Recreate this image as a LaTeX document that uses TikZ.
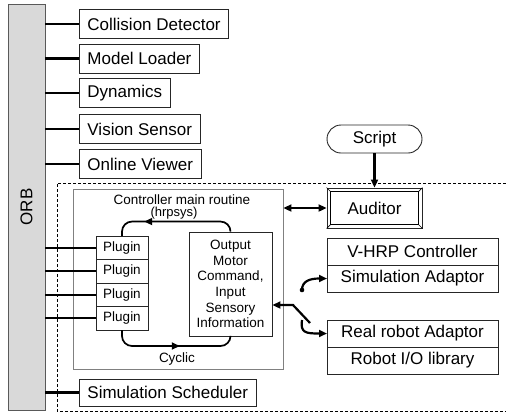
\documentclass[tikz,border=0pt]{standalone}
\usepackage{fontspec}
\setmainfont{Liberation Sans}
\usetikzlibrary{positioning, arrows.meta, decorations.markings}

\tikzset{
  bigfont/.style={font=\fontsize{17}{19}\selectfont},
  smallfont/.style={font=\fontsize{13.5}{15.6}\selectfont},
  box/.style={draw=black!85, line width=0.9pt, inner xsep=8pt, minimum height=29pt, bigfont},
  wbox/.style={draw=black!85, line width=0.9pt, outer sep=0pt, minimum width=171pt, minimum height=27pt, bigfont},
  plug/.style={draw=black!85, line width=0.9pt, outer sep=0pt, minimum width=52pt, minimum height=23.5pt, smallfont},
  link/.style={line width=2.4pt},
  cyc/.style={line width=1.7pt, rounded corners=10pt},
  midarrow/.style={postaction={decorate}, decoration={markings,
    mark=at position #1 with {\arrow{Triangle[length=8pt,width=7pt]}}}},
}

\begin{document}
\begin{tikzpicture}[x=1pt, y=-1pt, >={Triangle[length=8pt,width=7pt]}]
    \useasboundingbox (0,0) rectangle (506,413);

    % ORB bus
    \node[draw=gray!70!black, line width=0.9pt, fill=gray!30, minimum width=37, minimum height=406] (orb) at (26.5,207) {};
    \node[rotate=90, bigfont] (orblabel) at (orb) {ORB};

    % Simulation area
    \draw[line width=0.8pt, dash pattern=on 3pt off 2pt] (506,183) -| (57,411) -- (506,411);

    % Server components
    \node[box, anchor=west] (cd) at (79,24) {Collision Detector};
    \node[box, anchor=west] (ml) at (79,58.5) {Model Loader};
    \node[box, anchor=west] (dyn) at (79,93) {Dynamics};
    \node[box, anchor=west] (vs) at (79,129) {Vision Sensor};
    \node[box, anchor=west] (ov) at (79,164) {Online Viewer};
    \node[box, anchor=west, minimum height=27] (sched) at (79,392.5) {Simulation Scheduler};

    % Controller main routine
    \node[draw=gray, line width=0.9pt, minimum width=210, minimum height=180] (ctrl) at (178,279) {};
    \node[smallfont, inner sep=0pt] (ctrltitle) at (182,199.5) {Controller main routine};
    \node[font=\fontsize{13}{14}\selectfont, inner sep=0pt, below=2pt of ctrltitle.south, xshift=-8pt, anchor=north] (hrpsys) {(hrpsys)};
    \node[plug] (p1) at (122,247.75) {Plugin};
    \node[plug, below=0pt of p1] (p2) {Plugin};
    \node[plug, below=0pt of p2] (p3) {Plugin};
    \node[plug, below=0pt of p3] (p4) {Plugin};
    \node[draw=black!85, line width=0.9pt, minimum width=83, minimum height=104, inner sep=1pt, align=center, smallfont] (out) at (230.5,284)
      {Output\\Motor\\Command,\\Input\\Sensory\\Information};
    \node[smallfont] (cyclic) at (177,359) {Cyclic};

    % Cycle
    \draw[cyc, midarrow=0.74] (out.north) -- ++(0,-10) -| (p1.north);
    \draw[cyc, midarrow=0.55] (p4.south) -- ++(0,16) -| (out.south);

    % ORB links
    \foreach \n in {cd, ml, dyn, vs, ov, sched, p1, p2, p3, p4}
        \draw[link] (orb.east |- \n.west) -- (\n.west);

    % Script and auditor
    \node[draw=black!85, line width=0.9pt, rounded corners=14pt, minimum width=95, minimum height=28, bigfont] (script) at (374.5,139) {Script};
    \node[draw=black!85, line width=0.9pt, minimum width=95, minimum height=40, bigfont] (aud) at (374.5,208) {Auditor};
    \draw[line width=0.7pt] ([shift={(4,4)}]aud.north west) rectangle ([shift={(-4,-4)}]aud.south east);
    \foreach \c/\dx/\dy in {north west/4/4, north east/-4/4, south west/4/-4, south east/-4/-4}
        \draw[line width=0.7pt] (aud.\c) -- ([shift={(\dx,\dy)}]aud.\c);
    \draw[->, line width=2.6pt] (script.south) -- (aud.north);
    \draw[<->, line width=2.2pt] (ctrl.east |- aud.west) -- (aud.west);

    % Adaptors
    \node[wbox] (vhrp) at (412.5,251.5) {V-HRP Controller};
    \node[wbox, below=0pt of vhrp] (sa) {Simulation Adaptor};
    \node[wbox] (ra) at (412.5,333.5) {Real robot Adaptor};
    \node[wbox, below=0pt of ra] (rio) {Robot I/O library};

    % Switch
    \coordinate (bend) at (293,305);
    \coordinate (kink) at (310,323);
    \coordinate (simdot) at (302,290);
    \coordinate (realdot) at (302,320);
    \draw[->, line width=2.2pt] (kink) -- (bend) -- (out.east |- bend);
    \fill (simdot) circle (2.3);
    \draw[->, line width=2.2pt] (simdot) .. controls (302,281) and (310,278.5) .. (sa.west);
    \draw[->, line width=2.2pt] (realdot) .. controls (300,333) and (306,333.5) .. (ra.west);
\end{tikzpicture}
\end{document}
